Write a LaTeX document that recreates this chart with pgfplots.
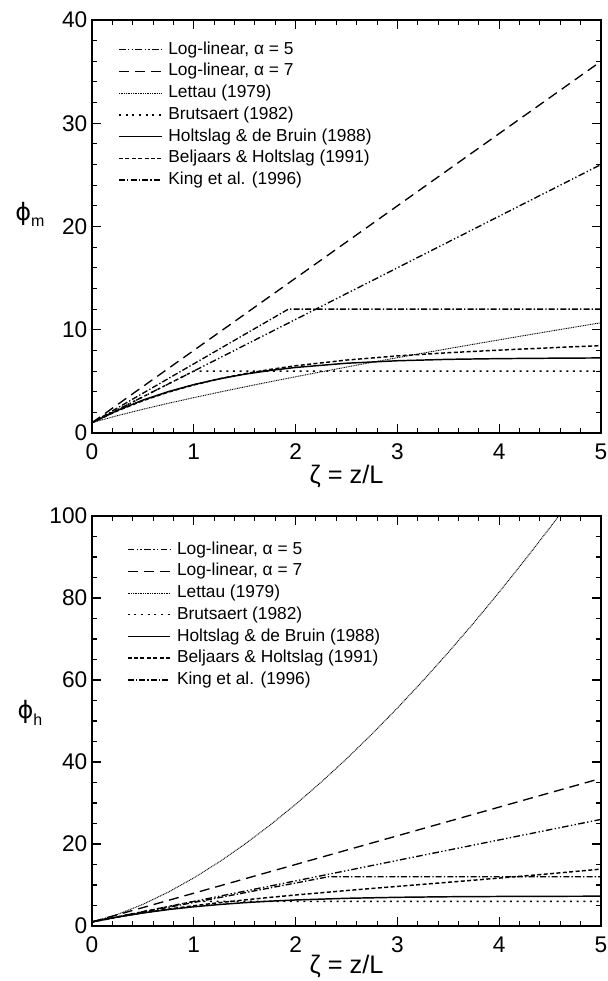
\documentclass[border=0pt]{standalone}
\usepackage{fontspec}
\setmainfont{Liberation Sans}
\newfontfamily\dejavu{DejaVu Sans}
\usepackage{pgfplots}
\pgfplotsset{compat=1.18}

\newcommand\lf{\fontsize{13}{15}\selectfont}

\tikzset{
 ll5/.style={black, line width=1pt, dash pattern=on 5pt off 1.8pt on 1pt off 1.8pt on 1pt off 1.8pt},
 ll7/.style={black, line width=1pt, dash pattern=on 7.5pt off 4.5pt},
 lett/.style={black, line width=0.7pt, dash pattern=on 0.7pt off 0.6pt},
 brut/.style={black, line width=1.1pt, dash pattern=on 1.5pt off 3.5pt},
 holt/.style={black, line width=1.1pt},
 belj/.style={black, line width=1.1pt, dash pattern=on 3pt off 1.8pt},
 king/.style={black, line width=1pt, dash pattern=on 4.5pt off 1.6pt on 1pt off 1.6pt},
}

\pgfplotsset{
 myaxis/.style={
  scale only axis, width=381.75pt,
  xmin=0, xmax=5, xtick={0,1,2,3,4,5}, minor x tick num=4,
  tick align=inside, major tick length=6.75pt, minor tick length=3.75pt,
  axis line style={line width=1pt},
  every tick/.style={black, line width=0.8pt},
  tick label style={font=\fontsize{17}{19}\selectfont},
  xticklabel style={yshift=-4.5pt},
  /pgf/number format/assume math mode=true,
  xlabel={ζ = z/L},
  legend cell align=left,
  legend image code/.code={\draw[##1] (0pt,0pt) -- (32pt,0pt);},
 },
 mylegend/.style={legend style={draw=none, fill=none, inner sep=0pt, column sep=4.5pt, row sep=3.3pt,
   font=\lf,
   nodes={inner sep=0pt, text height=10pt, text depth=3pt, font=\lf}}},
}

\begin{document}
\begin{tikzpicture}
\path[use as bounding box] (0,0) rectangle (455.25pt,735.75pt);

% ---------- top: phi_m ----------
\begin{axis}[myaxis, mylegend,
  at={(69pt,411pt)}, anchor=south west, height=309.75pt,
  ymin=0, ymax=40, ytick={0,10,20,30,40}, minor y tick num=4,
  every axis x label/.style={at={(axis description cs:0.5,0)}, anchor=center, yshift=-33pt, font=\fontsize{19}{21}\selectfont},
  ylabel={{\dejavu ϕ}\raisebox{-0.5ex}{\fontsize{12}{12}\selectfont m}},
  every axis y label/.style={at={(axis description cs:-0.122,0.53)}, anchor=center, font=\fontsize{18}{20}\selectfont},
  legend style={at={(axis description cs:0.051,0.95)}, anchor=north west},
]
\addplot[ll5] coordinates {(0,1) (5,26)};
\addlegendentry{\lf Log-linear, α = 5}
\addplot[ll7] coordinates {(0,1) (5,36)};
\addlegendentry{\lf Log-linear, α = 7}
\addplot[lett] coordinates {(0,1) (0.25,1.682) (0.5,2.298) (0.75,2.876) (1,3.425) (1.25,3.953) (1.5,4.465) (1.75,4.962) (2,5.447) (2.25,5.921) (2.5,6.385) (2.75,6.842) (3,7.291) (3.25,7.733) (3.5,8.169) (3.75,8.599) (4,9.024) (4.25,9.445) (4.5,9.859) (4.75,10.272) (5,10.678)};
\addlegendentry{\lf Lettau (1979)}
\addplot[brut] coordinates {(0,1) (1,6) (5,6)};
\addlegendentry{\lf Brutsaert (1982)}
\addplot[holt] coordinates {(0,1) (0.25,2.191) (0.5,3.184) (0.75,4.007) (1,4.686) (1.25,5.242) (1.5,5.694) (1.75,6.058) (2,6.348) (2.5,6.756) (3,6.997) (3.5,7.133) (4,7.203) (4.5,7.242) (5,7.27)};
\addlegendentry{\lf Holtslag \& de Bruin (1988)}
\addplot[belj] coordinates {(0,1) (0.25,2.153) (0.5,3.131) (0.75,3.957) (1,4.656) (1.25,5.244) (1.5,5.741) (1.75,6.158) (2,6.511) (2.5,7.063) (3,7.466) (3.5,7.775) (4,8.027) (4.5,8.250) (5,8.464)};
\addlegendentry{\lf Beljaars \& Holtslag (1991)}
\addplot[king] coordinates {(0,1) (1.93,12) (5,12)};
\addlegendentry{\lf King et al. (1996)}
\end{axis}

% ---------- bottom: phi_h ----------
\begin{axis}[myaxis, mylegend,
  at={(69pt,41.25pt)}, anchor=south west, height=307.5pt,
  ymin=0, ymax=100, ytick={0,20,40,60,80,100}, minor y tick num=3,
  every axis x label/.style={at={(axis description cs:0.5,0)}, anchor=center, yshift=-30.5pt, font=\fontsize{19}{21}\selectfont},
  ylabel={{\dejavu ϕ}\raisebox{-0.5ex}{\fontsize{12}{12}\selectfont h}},
  every axis y label/.style={at={(axis description cs:-0.122,0.52)}, anchor=center, font=\fontsize{18}{20}\selectfont},
  legend style={at={(axis description cs:0.068,0.94)}, anchor=north west},
]
\addplot[ll5] coordinates {(0,1) (5,26)};
\addlegendentry{\lf Log-linear, α = 5}
\addplot[ll7] coordinates {(0,1) (5,36)};
\addlegendentry{\lf Log-linear, α = 7}
\addplot[lett] coordinates {(0,1) (0.25,2.829) (0.5,5.281) (0.75,8.271) (1,11.73) (1.25,15.63) (1.5,19.94) (1.75,24.62) (2,29.67) (2.25,35.06) (2.5,40.77) (2.75,46.81) (3,53.16) (3.25,59.80) (3.5,66.73) (3.75,73.94) (4,81.43) (4.25,89.21) (4.5,97.20) (4.75,105.5) (5,114.0)};
\addlegendentry{\lf Lettau (1979)}
\addplot[brut] coordinates {(0,1) (1,6) (5,6)};
\addlegendentry{\lf Brutsaert (1982)}
\addplot[holt] coordinates {(0,1) (0.25,2.191) (0.5,3.184) (0.75,4.007) (1,4.686) (1.25,5.242) (1.5,5.694) (1.75,6.058) (2,6.348) (2.5,6.756) (3,6.997) (3.5,7.133) (4,7.203) (4.5,7.242) (5,7.27)};
\addlegendentry{\lf Holtslag \& de Bruin (1988)}
\addplot[belj] coordinates {(0,1) (0.25,2.173) (0.5,3.208) (0.75,4.126) (1,4.947) (1.25,5.687) (1.5,6.362) (1.75,6.985) (2,7.566) (2.5,8.645) (3,9.661) (3.5,10.665) (4,11.686) (4.5,12.75) (5,13.872)};
\addlegendentry{\lf Beljaars \& Holtslag (1991)}
\addplot[king] coordinates {(0,1) (2.32,12) (5,12)};
\addlegendentry{\lf King et al. (1996)}
\end{axis}
\end{tikzpicture}
\end{document}
